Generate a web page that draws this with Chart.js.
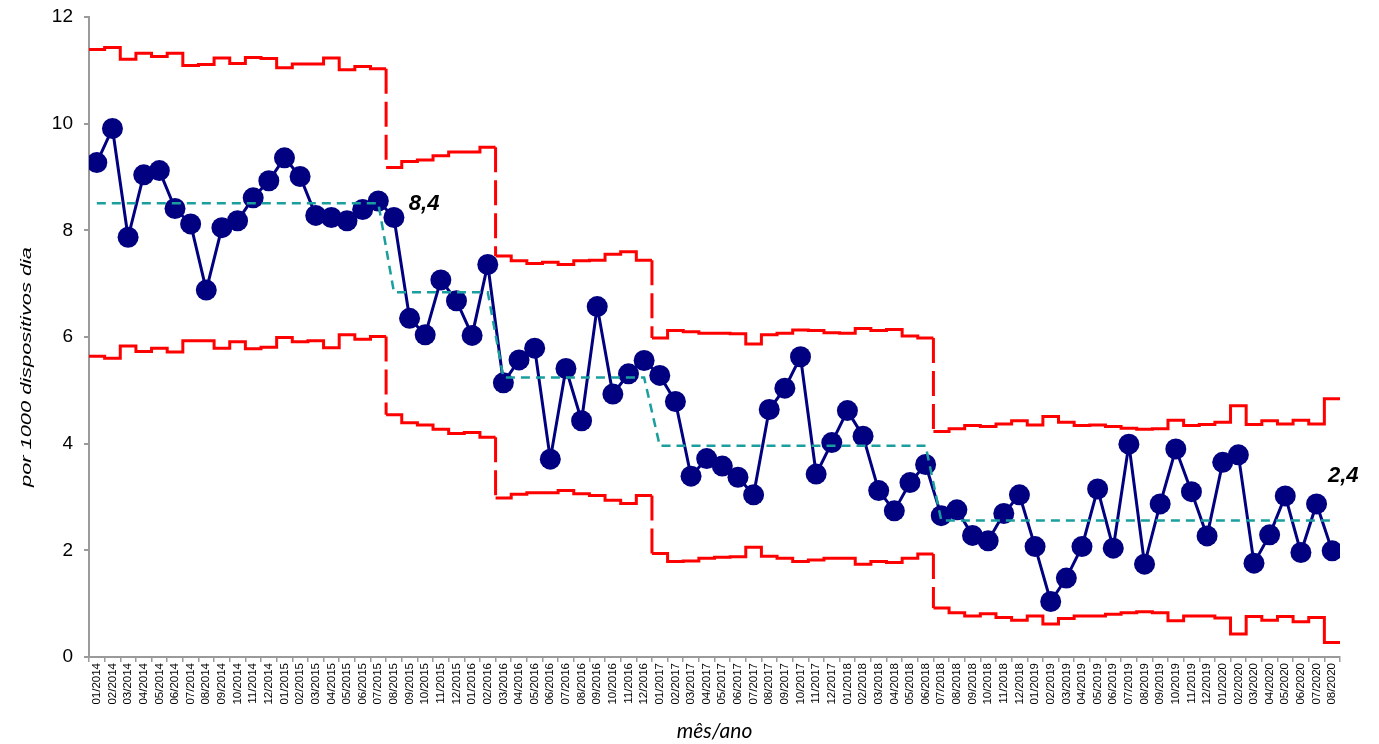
<!DOCTYPE html>
<html lang="pt">
<head>
<meta charset="utf-8">
<title>Taxa por 1000 dispositivos dia</title>
<script src="https://cdn.jsdelivr.net/npm/chart.js@4.4.1/dist/chart.umd.min.js"></script>
<style>
  html, body { margin: 0; padding: 0; background: #ffffff; }
  #wrap { width: 1379px; height: 744px; position: relative; }
</style>
</head>
<body>
<div id="wrap"><canvas id="chart" width="1379" height="744"></canvas></div>
<script>
// Months of the series (mês/ano)
const months = [
  '01/2014','02/2014','03/2014','04/2014','05/2014','06/2014','07/2014','08/2014','09/2014','10/2014','11/2014','12/2014',
  '01/2015','02/2015','03/2015','04/2015','05/2015','06/2015','07/2015','08/2015','09/2015','10/2015','11/2015','12/2015',
  '01/2016','02/2016','03/2016','04/2016','05/2016','06/2016','07/2016','08/2016','09/2016','10/2016','11/2016','12/2016',
  '01/2017','02/2017','03/2017','04/2017','05/2017','06/2017','07/2017','08/2017','09/2017','10/2017','11/2017','12/2017',
  '01/2018','02/2018','03/2018','04/2018','05/2018','06/2018','07/2018','08/2018','09/2018','10/2018','11/2018','12/2018',
  '01/2019','02/2019','03/2019','04/2019','05/2019','06/2019','07/2019','08/2019','09/2019','10/2019','11/2019','12/2019',
  '01/2020','02/2020','03/2020','04/2020','05/2020','06/2020','07/2020','08/2020'
];

// Monthly rate per 1000 device-days
const rate = [
  9.27, 9.91, 7.87, 9.04, 9.12, 8.41, 8.12, 6.88, 8.05, 8.18, 8.61, 8.93,
  9.36, 9.01, 8.28, 8.24, 8.18, 8.39, 8.55, 8.24, 6.35, 6.04, 7.07, 6.68,
  6.03, 7.36, 5.14, 5.57, 5.79, 3.71, 5.41, 4.43, 6.57, 4.93, 5.31, 5.56,
  5.28, 4.79, 3.39, 3.72, 3.58, 3.37, 3.04, 4.64, 5.04, 5.63, 3.43, 4.02,
  4.62, 4.14, 3.12, 2.74, 3.27, 3.61, 2.65, 2.76, 2.28, 2.18, 2.69, 3.04,
  2.07, 1.04, 1.48, 2.07, 3.15, 2.04, 3.99, 1.74, 2.87, 3.90, 3.10, 2.27,
  3.65, 3.79, 1.76, 2.29, 3.02, 1.96, 2.87, 1.99
];

// Upper control limit per month
const ucl = [
  11.39, 11.43, 11.21, 11.32, 11.26, 11.32, 11.09, 11.11, 11.23, 11.13, 11.24, 11.22,
  11.05, 11.12, 11.12, 11.23, 11.01, 11.07, 11.03, 9.18, 9.29, 9.32, 9.40, 9.47,
  9.47, 9.56, 7.52, 7.43, 7.38, 7.40, 7.36, 7.43, 7.44, 7.55, 7.60, 7.44,
  5.98, 6.12, 6.10, 6.07, 6.07, 6.06, 5.87, 6.04, 6.07, 6.13, 6.12, 6.08,
  6.07, 6.16, 6.12, 6.14, 6.02, 5.98, 4.23, 4.28, 4.34, 4.32, 4.37, 4.43,
  4.35, 4.51, 4.40, 4.34, 4.35, 4.32, 4.29, 4.27, 4.28, 4.44, 4.34, 4.36,
  4.40, 4.71, 4.36, 4.43, 4.37, 4.44, 4.37, 4.84
];

// Lower control limit per month
const lcl = [
  5.64, 5.60, 5.83, 5.73, 5.79, 5.72, 5.93, 5.93, 5.79, 5.91, 5.78, 5.81,
  5.99, 5.91, 5.93, 5.80, 6.04, 5.96, 6.01, 4.54, 4.39, 4.35, 4.27, 4.19,
  4.21, 4.12, 2.98, 3.05, 3.08, 3.08, 3.12, 3.06, 3.03, 2.94, 2.88, 3.03,
  1.94, 1.79, 1.80, 1.85, 1.87, 1.88, 2.06, 1.89, 1.85, 1.79, 1.82, 1.85,
  1.85, 1.74, 1.79, 1.77, 1.85, 1.93, 0.92, 0.83, 0.77, 0.81, 0.74, 0.69,
  0.77, 0.62, 0.72, 0.77, 0.77, 0.80, 0.83, 0.85, 0.83, 0.68, 0.77, 0.77,
  0.73, 0.43, 0.76, 0.69, 0.76, 0.66, 0.74, 0.27
];

// Phases of the control chart: first month index and mean of each phase
const phaseStart = [0, 19, 26, 36, 54];
const phaseMean = [8.51, 6.84, 5.24, 3.96, 2.56];

// Text notes written beside the chart
const noteText = ['8,4', '2,4'];
const noteAt = [[19.95, 8.5], [78.73, 3.39]];

const yTicks = [0, 2, 4, 6, 8, 10, 12];
const yTitle = 'por 1000 dispositivos dia';
const xTitle = 'mês/ano';

// Centre line for each month, taken from the phase it belongs to
const centre = months.map((m, i) => {
  let p = 0;
  for (let k = 0; k < phaseStart.length; k++) if (i >= phaseStart[k]) p = k;
  return phaseMean[p];
});

// Limits are drawn as steps spanning each month's full width
const steps = arr => arr.flatMap((v, i) => [{ x: i - 0.5, y: v }, { x: i + 0.5, y: v }]);

// The vertical jump between two phases is drawn with long dashes
const isPhaseJump = ctx =>
  ctx.p0.parsed.x === ctx.p1.parsed.x && phaseStart.includes(ctx.p0.parsed.x + 0.5);
const limitSegment = { borderDash: ctx => (isPhaseJump(ctx) ? [25, 8] : undefined) };
// A never-breaking dash keeps the other segments solid while forcing the
// plain path renderer, so dashed vertical segments are not over-stroked.
const SOLID = [1000, 0];

const AXIS_GREY = '#9a9a9a';
const FONT = "'Liberation Sans', Arial, sans-serif";

const notesPlugin = {
  id: 'notes',
  afterDatasetsDraw(chart) {
    const { ctx, scales: { x, y } } = chart;
    ctx.save();
    ctx.fillStyle = '#000000';
    ctx.font = "italic bold 22px " + FONT;
    ctx.textAlign = 'left';
    ctx.textBaseline = 'middle';
    noteText.forEach((t, i) => {
      ctx.fillText(t, x.getPixelForValue(noteAt[i][0]), y.getPixelForValue(noteAt[i][1]));
    });
    ctx.restore();
  },
  afterDraw(chart) {
    // Vertical axis title, set in a tall, elongated italic
    const { ctx } = chart;
    ctx.save();
    ctx.fillStyle = '#000000';
    ctx.font = "italic 15px " + FONT;
    const w = ctx.measureText(yTitle).width;
    ctx.translate(26.5, 367);
    ctx.rotate(-Math.PI / 2);
    ctx.scale(240 / w, 1);
    ctx.textAlign = 'center';
    ctx.textBaseline = 'middle';
    ctx.fillText(yTitle, 0, 0);
    ctx.restore();
  }
};

new Chart(document.getElementById('chart'), {
  type: 'line',
  data: {
    datasets: [
      {
        label: 'média',
        data: centre.map((v, i) => ({ x: i, y: v })),
        borderColor: '#1a9e9e',
        borderWidth: 2.5,
        borderDash: [9, 6],
        pointRadius: 0,
        fill: false,
        order: 0
      },
      {
        label: 'taxa',
        data: rate.map((v, i) => ({ x: i, y: v })),
        borderColor: '#000080',
        backgroundColor: '#000080',
        borderWidth: 3,
        pointRadius: 10.5,
        pointBorderWidth: 0,
        pointBackgroundColor: '#000080',
        pointBorderColor: '#000080',
        fill: false,
        order: 1
      },
      {
        label: 'LSC',
        data: steps(ucl),
        borderColor: '#ff0000',
        borderWidth: 3,
        borderDash: SOLID,
        pointRadius: 0,
        fill: false,
        segment: limitSegment,
        order: 2
      },
      {
        label: 'LIC',
        data: steps(lcl),
        borderColor: '#ff0000',
        borderWidth: 3,
        borderDash: SOLID,
        pointRadius: 0,
        fill: false,
        segment: limitSegment,
        order: 2
      }
    ]
  },
  options: {
    responsive: false,
    animation: false,
    events: [],
    layout: { autoPadding: false, padding: { left: 0, top: 17, right: 39, bottom: 0 } },
    plugins: { legend: { display: false }, tooltip: { enabled: false } },
    scales: {
      x: {
        type: 'linear',
        min: -0.5,
        max: 79.5,
        afterBuildTicks: s => { s.ticks = months.map((m, i) => ({ value: i })); },
        afterFit: s => { s.height = 87; },
        ticks: {
          autoSkip: false,
          minRotation: 90,
          maxRotation: 90,
          padding: 1,
          color: '#000000',
          font: { family: FONT, size: 11.5 },
          callback: v => months[v]
        },
        grid: {
          offset: true,
          drawOnChartArea: false,
          drawTicks: true,
          tickLength: 5,
          color: AXIS_GREY,
          lineWidth: 1.5
        },
        border: { color: AXIS_GREY, width: 2 },
        title: {
          display: true,
          text: xTitle,
          color: '#000000',
          font: { family: "Lato, 'Open Sans', sans-serif", size: 21, style: 'italic' },
          padding: { top: 0, bottom: 0 }
        }
      },
      y: {
        min: 0,
        max: 12,
        afterBuildTicks: s => { s.ticks = yTicks.map(v => ({ value: v })); },
        afterFit: s => {
          s.width = 89;
          // labels only need half their height above and below the axis ends
          s.paddingTop = 11;
          s.paddingBottom = 11;
        },
        ticks: {
          padding: 11,
          color: '#000000',
          font: { family: FONT, size: 19 }
        },
        grid: {
          drawOnChartArea: false,
          drawTicks: true,
          tickLength: 5,
          color: AXIS_GREY,
          lineWidth: 2
        },
        border: { color: AXIS_GREY, width: 2 }
      }
    }
  },
  plugins: [notesPlugin]
});
</script>
</body>
</html>
